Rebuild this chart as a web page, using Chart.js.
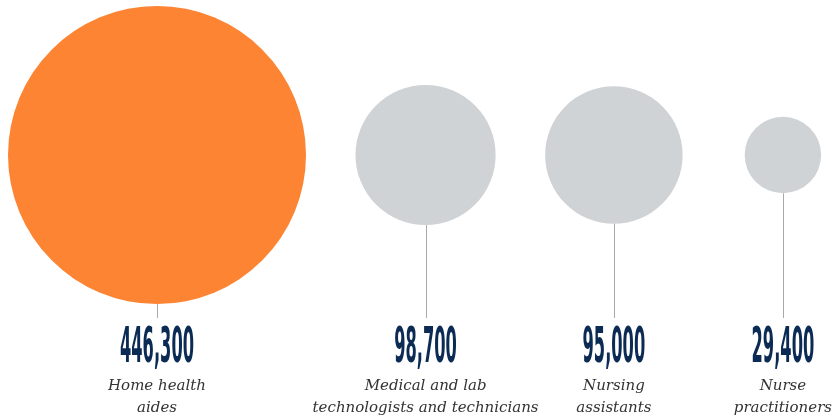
<!DOCTYPE html>
<html>
<head>
<meta charset="utf-8">
<script src="https://cdn.jsdelivr.net/npm/chart.js@4/dist/chart.umd.min.js"></script>
<style>
  html, body { margin: 0; padding: 0; background: #ffffff; }
  #wrap { width: 833px; height: 420px; }
</style>
</head>
<body>
<div id="wrap"><canvas id="jobsCanvas" width="833" height="420"></canvas></div>
<script>
// occupations and projected new jobs
var jobValues = [446300, 98700, 95000, 29400];
var jobNumbers = ['446,300', '98,700', '95,000', '29,400'];
var jobLabels = [
  ['Home health', 'aides'],
  ['Medical and lab', 'technologists and technicians'],
  ['Nursing', 'assistants'],
  ['Nurse', 'practitioners']
];

var W = 833, H = 420;
var maxRadius = 149;
var centerY = 155;
var leftMargin = 8;
var gap = 49.5;
var lineEndY = 318;
var numberBaseline = 362;
var labelBaseline = 390;
var labelLeading = 22;
var labelFont = 'italic 15px "DejaVu Serif", "Liberation Serif", serif';
var numberFont = 'bold 50px "DejaVu Sans Condensed", "DejaVu Sans", sans-serif';

var colors = ['#fd8433', '#d0d3d6', '#d0d3d6', '#d0d3d6'];

// area proportional radii
var vmax = Math.max.apply(null, jobValues);
var radii = jobValues.map(function (v) { return maxRadius * Math.sqrt(v / vmax); });

// packing: first circle from left margin, last column right aligned on its label
var measure = document.createElement('canvas').getContext('2d');
measure.font = labelFont;
var xs = [];
for (var i = 0; i < radii.length; i++) {
  if (i === 0) {
    xs.push(leftMargin + radii[0]);
  } else if (i === radii.length - 1) {
    var wMax = 0;
    jobLabels[i].forEach(function (t) { wMax = Math.max(wMax, measure.measureText(t).width); });
    xs.push(W - wMax / 2 - 1);
  } else {
    xs.push(xs[i - 1] + radii[i - 1] + gap + radii[i]);
  }
}

var bubbleData = jobValues.map(function (v, i) {
  return { x: xs[i], y: centerY, r: radii[i] };
});

var labelPlugin = {
  id: 'jobLabels',
  afterDatasetsDraw: function (chart) {
    var ctx = chart.ctx;
    var meta = chart.getDatasetMeta(0);
    ctx.save();
    ctx.font = numberFont;
    var squeeze = 74 / ctx.measureText(jobNumbers[0]).width;
    meta.data.forEach(function (el, i) {
      var r = radii[i];
      // connector
      ctx.strokeStyle = '#a9a9a9';
      ctx.lineWidth = 1;
      ctx.beginPath();
      ctx.moveTo(Math.round(el.x) + 0.5, el.y + r);
      ctx.lineTo(Math.round(el.x) + 0.5, lineEndY);
      ctx.stroke();
      // big number
      ctx.save();
      ctx.fillStyle = '#0c2b54';
      ctx.font = numberFont;
      ctx.textAlign = 'center';
      ctx.textBaseline = 'alphabetic';
      ctx.translate(el.x, numberBaseline);
      ctx.scale(squeeze, 1);
      ctx.fillText(jobNumbers[i], 0, 0);
      ctx.restore();
      // occupation label
      ctx.fillStyle = '#333333';
      ctx.font = labelFont;
      ctx.textAlign = 'center';
      ctx.textBaseline = 'alphabetic';
      jobLabels[i].forEach(function (t, k) {
        ctx.fillText(t, el.x, labelBaseline + k * labelLeading);
      });
    });
    ctx.restore();
  }
};

new Chart(document.getElementById('jobsCanvas'), {
  type: 'bubble',
  data: {
    datasets: [{
      data: bubbleData,
      backgroundColor: colors,
      borderWidth: 0,
      hoverRadius: 0,
      hoverBorderWidth: 0,
      clip: false
    }]
  },
  options: {
    responsive: false,
    animation: false,
    devicePixelRatio: 1,
    layout: { padding: 0, autoPadding: false },
    events: [],
    scales: {
      x: { type: 'linear', min: 0, max: W, display: false },
      y: { type: 'linear', min: 0, max: H, reverse: true, display: false }
    },
    plugins: {
      legend: { display: false },
      tooltip: { enabled: false }
    }
  },
  plugins: [labelPlugin]
});
</script>
</body>
</html>
